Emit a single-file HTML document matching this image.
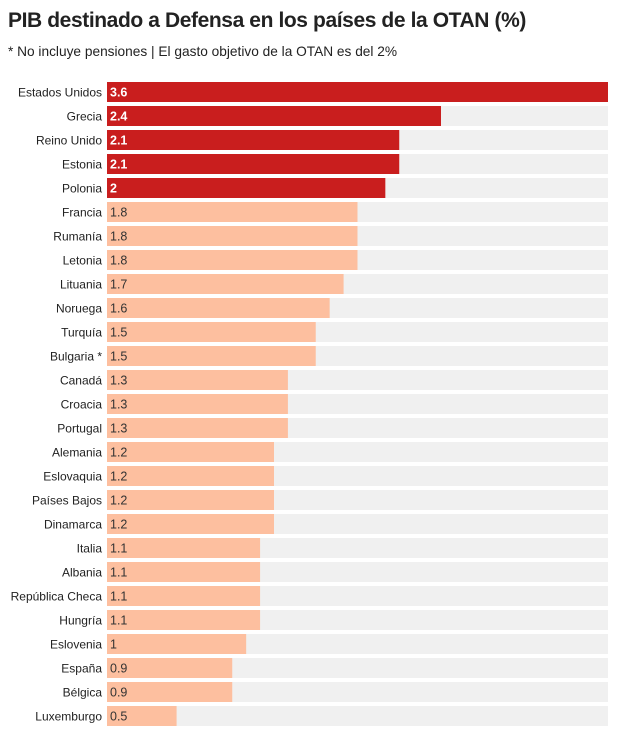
<!DOCTYPE html>
<html><head><meta charset="utf-8"><style>
body{margin:0;width:617px;height:736px;background:#fff;font-family:"Liberation Sans",sans-serif;overflow:hidden;position:relative}
#title{position:absolute;left:8px;top:9px;font-size:21px;font-weight:bold;color:#222;letter-spacing:-0.4px}
#sub{position:absolute;left:8px;top:44px;font-size:13.7px;color:#222}
</style></head><body>
<div id="title">PIB destinado a Defensa en los países de la OTAN (%)</div>
<div id="sub">* No incluye pensiones | El gasto objetivo de la OTAN es del 2%</div>
<svg id="chart" width="617" height="736" style="position:absolute;left:0;top:0"></svg>
<script>
const categories=["Estados Unidos","Grecia","Reino Unido","Estonia","Polonia","Francia","Rumanía","Letonia","Lituania","Noruega","Turquía","Bulgaria *","Canadá","Croacia","Portugal","Alemania","Eslovaquia","Países Bajos","Dinamarca","Italia","Albania","República Checa","Hungría","Eslovenia","España","Bélgica","Luxemburgo"];
const values=[3.6,2.4,2.1,2.1,2,1.8,1.8,1.8,1.7,1.6,1.5,1.5,1.3,1.3,1.3,1.2,1.2,1.2,1.2,1.1,1.1,1.1,1.1,1,0.9,0.9,0.5];
const labels=["3.6","2.4","2.1","2.1","2","1.8","1.8","1.8","1.7","1.6","1.5","1.5","1.3","1.3","1.3","1.2","1.2","1.2","1.2","1.1","1.1","1.1","1.1","1","0.9","0.9","0.5"];
const target=2;
const x0=107,x1=608,maxV=3.6;
const xs=v=>x0+(v/maxV)*(x1-x0);
const ys=i=>82+i*24;
const svg=document.getElementById('chart');
const NS='http://www.w3.org/2000/svg';
categories.forEach((c,i)=>{
  const y=ys(i);
  const bg=document.createElementNS(NS,'rect');
  bg.setAttribute('x',x0);bg.setAttribute('y',y);bg.setAttribute('width',x1-x0);bg.setAttribute('height',20);bg.setAttribute('fill','#f0f0f0');
  
  
  svg.appendChild(bg);
  const hi=values[i]>=target;
  const r=document.createElementNS(NS,'rect');
  r.setAttribute('x',x0);r.setAttribute('y',y);r.setAttribute('width',xs(values[i])-x0);r.setAttribute('height',20);r.setAttribute('fill',hi?'#c91e1e':'#fdbf9f');
  
  
  svg.appendChild(r);
  const t=document.createElementNS(NS,'text');
  t.setAttribute('x',102);t.setAttribute('y',y+14.5);t.setAttribute('text-anchor','end');t.setAttribute('font-size','12');t.setAttribute('fill','#222');
  t.textContent=c;
  
  
  svg.appendChild(t);
  const v=document.createElementNS(NS,'text');
  v.setAttribute('x',x0+3);v.setAttribute('y',y+14.5);v.setAttribute('font-size','12.5');v.setAttribute('fill',hi?'#fff':'#333');
  if(hi)v.setAttribute('font-weight','bold');
  v.textContent=labels[i];
  
  
  svg.appendChild(v);
});
</script>
</body></html>
